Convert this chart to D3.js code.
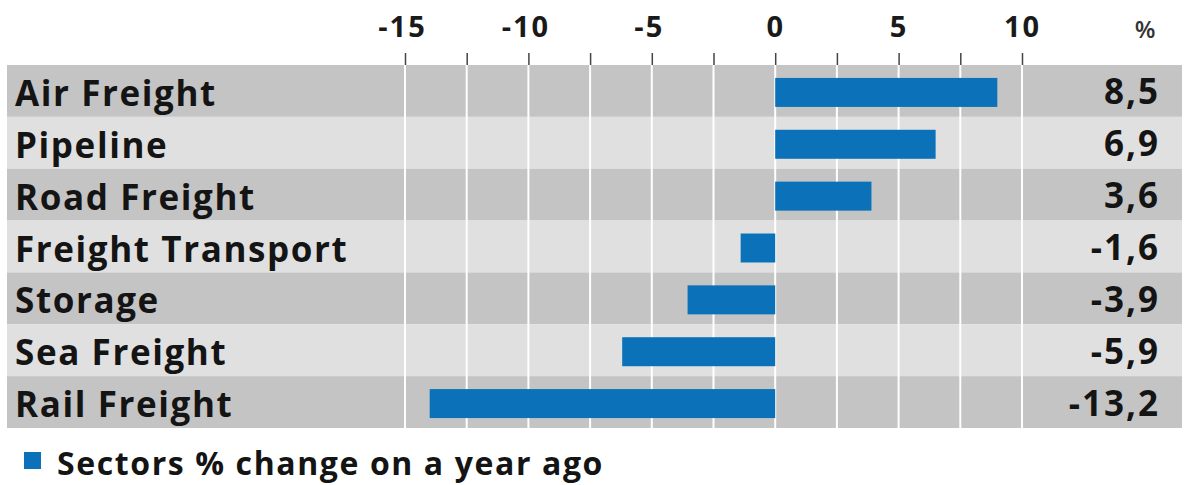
<!DOCTYPE html>
<html>
<head>
<meta charset="utf-8">
<script src="https://cdn.jsdelivr.net/npm/d3@7"></script>
<style>
  html, body { margin: 0; padding: 0; background: #ffffff; }
  svg { display: block; }
  text { font-family: "Open Sans", "Noto Sans", sans-serif; }
</style>
</head>
<body>
<svg id="chart" width="1192" height="485"></svg>
<script>
// ---- data ----
const categories = ["Air Freight", "Pipeline", "Road Freight", "Freight Transport", "Storage", "Sea Freight", "Rail Freight"];
const barValues = [9.0, 6.5, 3.9, -1.4, -3.55, -6.2, -14.0];   // bar lengths as drawn
const valueLabels = ["8,5", "6,9", "3,6", "-1,6", "-3,9", "-5,9", "-13,2"];
const tickValues = [-15, -12.5, -10, -7.5, -5, -2.5, 0, 2.5, 5, 7.5, 10];
const tickLabels = ["-15", "", "-10", "", "-5", "", "0", "", "5", "", "10"];
const legendLabel = "Sectors % change on a year ago";
const unitLabel = "%";

// ---- layout ----
const svg = d3.select("#chart");
const bandLeft = 7, bandRight = 1182, plotTop = 65, plotBottom = 428;

const x = d3.scaleLinear().domain([-15, 10]).range([405, 1022]);
const y = d3.scaleBand().domain(categories).range([plotTop, plotBottom]).paddingInner(0).paddingOuter(0);

const darkRow = "#c4c4c4", lightRow = "#e0e0e0", barColor = "#0b72b9";

// row backgrounds
svg.append("g").selectAll("rect").data(categories).join("rect")
  .attr("x", bandLeft).attr("width", bandRight - bandLeft)
  .attr("y", d => y(d)).attr("height", y.bandwidth())
  .attr("fill", (d, i) => i % 2 === 0 ? darkRow : lightRow);

// white gridlines
svg.append("g").selectAll("line").data(tickValues).join("line")
  .attr("x1", d => x(d)).attr("x2", d => x(d))
  .attr("y1", plotTop).attr("y2", plotBottom)
  .attr("stroke", "#ffffff").attr("stroke-width", 2);

// axis on top
const labelMap = new Map(tickValues.map((v, i) => [v, tickLabels[i]]));
const axis = d3.axisTop(x).tickValues(tickValues)
  .tickFormat(d => labelMap.get(d)).tickSize(12).tickPadding(16);
const ax = svg.append("g").attr("transform", `translate(0,${plotTop})`).call(axis);
ax.select(".domain").remove();
ax.selectAll(".tick line").attr("stroke", "#444").attr("stroke-width", 1.5);
ax.selectAll(".tick text")
  .attr("font-family", "'Open Sans', sans-serif")
  .attr("font-weight", 700).attr("font-size", 29).attr("fill", "#1a1a1a")
  .attr("letter-spacing", 2).attr("dx", d => d < 0 ? -3 : 0);

// unit label
svg.append("text").attr("x", 1145).attr("y", 38).attr("text-anchor", "middle")
  .attr("font-size", 24).attr("font-weight", 600).attr("fill", "#333").text(unitLabel);

// bars
const barH = 29;
svg.append("g").selectAll("rect").data(categories).join("rect")
  .attr("x", (d, i) => x(Math.min(0, barValues[i])))
  .attr("width", (d, i) => Math.abs(x(barValues[i]) - x(0)))
  .attr("y", d => y(d) + (y.bandwidth() - barH) / 2 + 1.5)
  .attr("height", barH)
  .attr("fill", barColor);

// category labels
svg.append("g").selectAll("text").data(categories).join("text")
  .attr("x", 15).attr("y", d => y(d) + y.bandwidth() / 2 + 15)
  .attr("font-size", 35).attr("font-weight", 700).attr("fill", "#141414")
  .attr("letter-spacing", 1.6)
  .text(d => d);

// value labels
svg.append("g").selectAll("text").data(valueLabels).join("text")
  .attr("x", 1160).attr("y", (d, i) => y(categories[i]) + y.bandwidth() / 2 + 13.5)
  .attr("text-anchor", "end")
  .attr("font-size", 35).attr("font-weight", 700).attr("fill", "#141414")
  .attr("letter-spacing", 2)
  .text(d => d);

// legend
svg.append("rect").attr("x", 24).attr("y", 452).attr("width", 17).attr("height", 17).attr("fill", barColor);
svg.append("text").attr("x", 57).attr("y", 475)
  .attr("font-size", 32).attr("font-weight", 700).attr("fill", "#141414")
  .attr("letter-spacing", 1.6)
  .text(legendLabel);
</script>
</body>
</html>
